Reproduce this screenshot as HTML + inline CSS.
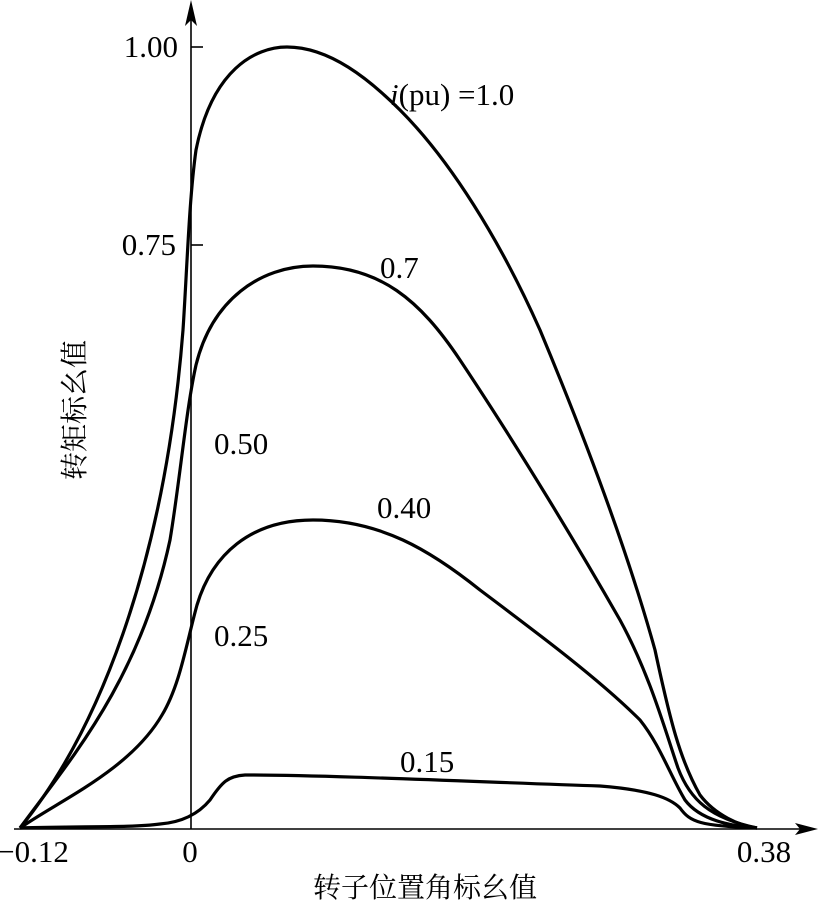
<!DOCTYPE html>
<html><head><meta charset="utf-8"><style>
html,body{margin:0;padding:0;background:#fff;}
svg{display:block;}
text{font-family:"Liberation Serif","Noto Serif CJK SC",serif;font-size:31px;fill:#000;}
.cjk{font-family:"Noto Serif CJK SC","Noto Sans CJK SC",serif;font-size:28px;}
</style></head><body>
<svg width="823" height="910" viewBox="0 0 823 910" xmlns="http://www.w3.org/2000/svg">
<g stroke="#000" stroke-width="1.6" fill="none">
<line x1="191" y1="829" x2="191" y2="6"/>
<line x1="14" y1="829" x2="812" y2="829"/>
<line x1="191" y1="47" x2="203" y2="47"/>
<line x1="191" y1="245" x2="203" y2="245"/>
</g>
<polygon points="191,0 185,26 191,20 197,26" fill="#000"/>
<polygon points="818,829 795,823 800,829 795,835" fill="#000"/>
<g stroke="#000" stroke-width="3.2" fill="none" stroke-linejoin="round">
<path d="M20,828 C100,730 165,560 183,330 C187,270 189,200 196,150 C212,70 255,47 287,47 C330,47 370,80 400,110 C450,160 500,240 540,330 C590,450 630,560 655,650 C670,720 680,760 700,795 C715,815 740,826 757,828"/>
<path d="M20,828 C70,760 140,680 170,540 C180,480 186,410 196,365 C212,300 260,266 313,266 C380,266 420,300 460,360 C520,450 580,550 620,620 C650,675 665,730 678,768 C690,800 710,818 757,828"/>
<path d="M20,828 C60,800 130,770 162,715 C180,685 186,645 197,605 C212,555 250,520 313,520 C380,520 430,550 480,590 C540,635 600,680 640,720 C660,745 670,775 685,800 C700,820 730,826 757,828"/>
<path d="M20,828 C80,826 130,828 160,824 C185,822 200,812 210,800 C222,782 228,776 245,775 C330,775 480,782 600,786 C650,790 670,798 680,808 C690,822 700,826 757,828"/>
</g>
<text x="178" y="57" text-anchor="end">1.00</text>
<text x="176" y="255" text-anchor="end">0.75</text>
<text x="214" y="454">0.50</text>
<text x="214" y="646">0.25</text>
<text x="33" y="862" text-anchor="middle">−0.12</text>
<text x="190" y="862" text-anchor="middle">0</text>
<text x="764" y="862" text-anchor="middle">0.38</text>
<text x="390" y="105"><tspan font-style="italic">i</tspan>(pu) =1.0</text>
<text x="380" y="278">0.7</text>
<text x="377" y="518">0.40</text>
<text x="400" y="772">0.15</text>
<text class="cjk" x="425" y="897" text-anchor="middle">转子位置角标幺值</text>
<text class="cjk" transform="translate(84,410) rotate(-90)" text-anchor="middle">转矩标幺值</text>
</svg>
</body></html>
